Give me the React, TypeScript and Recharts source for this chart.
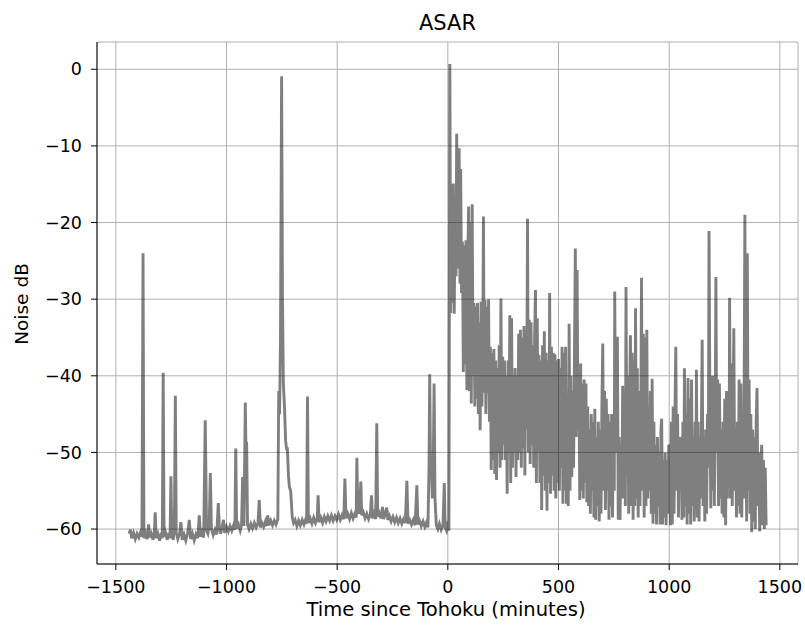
import React from "react";
import { LineChart, Line, XAxis, YAxis, CartesianGrid } from "recharts";

// [minutes since Tohoku, noise dB] before the quake
const preQuake: [number, number][] = [
  [-1440, -60.6], [-1434, -60.1], [-1428, -61.2], [-1420, -60.5], [-1412, -61.3], [-1404, -60.6],
  [-1396, -61.1], [-1388, -60.4], [-1382, -61.0], [-1377, -24.0], [-1373, -61.2], [-1366, -60.5],
  [-1358, -61.3], [-1352, -59.4], [-1347, -61.1], [-1340, -60.6], [-1332, -61.4], [-1326, -60.4],
  [-1322, -57.8], [-1318, -61.2], [-1310, -60.6], [-1302, -61.5], [-1294, -60.5], [-1290, -61.2],
  [-1286, -39.6], [-1282, -61.0], [-1276, -60.4], [-1268, -61.4], [-1260, -60.5], [-1255, -61.2],
  [-1251, -53.1], [-1247, -60.8], [-1240, -61.4], [-1235, -58.0], [-1231, -42.6], [-1227, -60.5],
  [-1220, -61.3], [-1212, -60.6], [-1206, -59.1], [-1200, -61.4], [-1192, -60.7], [-1184, -61.5],
  [-1176, -60.6], [-1168, -58.8], [-1162, -61.3], [-1154, -60.6], [-1146, -61.5], [-1138, -60.7],
  [-1130, -61.2], [-1123, -58.2], [-1117, -61.0], [-1110, -60.4], [-1103, -61.1], [-1096, -45.8],
  [-1090, -60.2], [-1084, -60.6], [-1078, -59.5], [-1073, -52.7], [-1068, -60.0], [-1060, -60.8],
  [-1052, -60.1], [-1044, -60.7], [-1037, -56.6], [-1032, -60.0], [-1026, -60.6], [-1020, -59.8],
  [-1014, -58.8], [-1008, -60.5], [-1000, -59.7], [-992, -60.3], [-984, -59.6], [-976, -60.2],
  [-968, -59.5], [-962, -60.1], [-958, -49.5], [-954, -59.9], [-946, -59.4], [-938, -60.2],
  [-932, -59.5], [-927, -53.2], [-921, -59.6], [-915, -43.5], [-911, -52.0], [-909, -48.6],
  [-905, -59.4], [-898, -60.0], [-890, -59.3], [-882, -59.9], [-874, -59.2], [-866, -59.8],
  [-858, -59.3], [-852, -56.2], [-847, -59.8], [-840, -59.2], [-832, -59.7], [-824, -59.0],
  [-818, -59.6], [-814, -58.2], [-808, -59.5], [-800, -58.9], [-792, -59.5], [-784, -58.9],
  [-776, -59.4], [-768, -58.7], [-764, -42.0], [-760, -45.0], [-756, -35.0], [-751, -0.9],
  [-747, -30.0], [-743, -41.0], [-738, -44.0], [-733, -48.4], [-729, -49.5], [-725, -49.5],
  [-720, -53.0], [-716, -54.5], [-710, -55.0], [-703, -58.4], [-697, -59.2], [-690, -58.8],
  [-682, -59.6], [-674, -58.9], [-666, -59.5], [-658, -58.8], [-650, -59.4], [-642, -58.7],
  [-638, -59.3], [-634, -42.7], [-630, -59.2], [-622, -58.6], [-614, -59.3], [-606, -58.5],
  [-598, -59.2], [-590, -58.6], [-586, -55.6], [-582, -59.1], [-574, -58.5], [-566, -59.2],
  [-558, -58.4], [-550, -59.0], [-542, -58.3], [-534, -58.9], [-526, -58.2], [-518, -58.9],
  [-510, -58.3], [-502, -58.8], [-494, -58.1], [-486, -58.8], [-478, -58.2], [-470, -58.7],
  [-465, -53.4], [-460, -58.6], [-452, -58.0], [-444, -58.7], [-436, -57.9], [-428, -58.6],
  [-420, -58.0], [-414, -58.5], [-411, -50.7], [-407, -57.5], [-400, -58.0], [-393, -53.8],
  [-389, -58.2], [-382, -57.8], [-374, -58.6], [-366, -58.0], [-358, -58.7], [-350, -58.1],
  [-345, -55.6], [-340, -58.6], [-333, -58.0], [-326, -58.7], [-321, -46.2], [-317, -58.4],
  [-310, -57.9], [-302, -58.6], [-295, -57.1], [-290, -58.7], [-283, -58.1], [-276, -57.2],
  [-271, -58.8], [-264, -58.3], [-256, -59.0], [-248, -58.4], [-240, -59.1], [-232, -58.5],
  [-224, -59.2], [-216, -58.6], [-208, -59.3], [-200, -58.7], [-192, -59.2], [-185, -53.7],
  [-180, -59.3], [-172, -58.8], [-164, -59.4], [-156, -58.8], [-148, -59.5], [-140, -54.3],
  [-135, -59.4], [-128, -58.9], [-120, -59.6], [-112, -59.0], [-104, -59.7], [-96, -59.1],
  [-90, -59.8], [-85, -52.0], [-82, -39.8], [-78, -52.5], [-74, -52.0], [-70, -56.0],
  [-66, -52.0], [-62, -41.0], [-58, -56.0], [-52, -59.5], [-45, -60.0], [-38, -59.3],
  [-30, -60.1], [-22, -59.5], [-16, -54.0], [-12, -59.8], [-6, -60.2], [-2, -59.6],
];

// [minutes since Tohoku, noise dB] after the quake
const postQuake: [number, number][] = [
  [5, -60.2], [9, 0.7], [13, -31.8], [17, -15.0], [21, -30.5], [25, -14.9], [29, -31.9],
  [33, -17.0], [37, -27.0], [40, -8.4], [44, -26.0], [47, -12.0], [51, -10.3], [55, -28.0],
  [58, -13.0], [62, -29.2], [66, -22.5], [70, -39.5], [74, -23.0], [78, -38.5], [82, -22.3],
  [86, -41.9], [90, -25.0], [94, -17.9], [98, -42.0], [102, -20.0], [106, -43.6], [110, -17.6],
  [114, -40.0], [118, -30.5], [122, -44.0], [126, -31.0], [130, -43.0], [134, -30.5], [138, -45.0],
  [142, -33.0], [146, -47.1], [150, -30.3], [154, -44.0], [158, -35.0], [161, -19.2], [164, -42.2],
  [168, -30.1], [172, -45.0], [176, -31.0], [180, -42.2], [184, -30.0], [188, -46.0], [192, -36.2],
  [196, -52.3], [200, -37.0], [204, -51.0], [208, -36.5], [212, -52.8], [216, -38.0], [220, -53.6],
  [224, -39.0], [228, -50.0], [232, -36.0], [236, -52.0], [240, -29.9], [244, -51.0], [248, -37.5],
  [252, -49.0], [256, -38.0], [260, -51.0], [264, -40.0], [268, -55.4], [272, -38.0], [276, -50.0],
  [280, -32.1], [284, -54.0], [288, -32.5], [292, -52.0], [296, -40.0], [300, -50.0], [304, -39.0],
  [308, -53.2], [312, -40.0], [316, -51.0], [320, -34.5], [324, -50.0], [328, -34.0], [332, -52.0],
  [336, -35.0], [340, -49.5], [344, -33.5], [348, -53.0], [352, -34.0], [356, -47.0], [360, -19.5],
  [364, -50.0], [368, -32.7], [372, -51.5], [376, -33.0], [380, -49.0], [384, -36.0], [388, -52.0],
  [392, -35.0], [396, -28.8], [400, -54.0], [404, -32.5], [408, -50.0], [412, -37.3], [416, -54.0],
  [420, -38.0], [424, -57.5], [428, -36.0], [432, -53.0], [436, -34.2], [440, -55.0], [444, -37.0],
  [448, -57.6], [452, -38.0], [456, -54.0], [460, -29.2], [464, -55.4], [468, -36.2], [472, -53.0],
  [476, -37.0], [480, -55.0], [484, -37.2], [488, -56.0], [492, -38.0], [496, -54.0], [500, -37.8],
  [504, -55.0], [508, -39.0], [512, -52.0], [516, -36.2], [520, -56.7], [524, -37.0], [528, -55.0],
  [532, -36.2], [536, -56.7], [540, -45.8], [544, -57.0], [548, -33.2], [552, -55.0], [556, -40.0],
  [560, -53.2], [564, -42.0], [568, -52.0], [572, -38.0], [576, -23.4], [580, -48.0], [584, -26.2],
  [588, -47.0], [592, -40.0], [596, -56.2], [600, -38.4], [604, -55.0], [608, -41.0], [612, -56.0],
  [616, -40.5], [620, -54.0], [624, -41.0], [628, -56.5], [632, -44.0], [636, -57.0], [640, -47.0],
  [644, -58.0], [648, -45.0], [652, -55.0], [656, -46.0], [660, -58.5], [664, -44.3], [668, -58.8],
  [672, -48.0], [676, -57.0], [680, -46.0], [684, -59.0], [688, -47.0], [692, -58.0], [696, -44.0],
  [700, -35.8], [704, -55.0], [708, -42.0], [712, -57.5], [716, -43.0], [720, -55.0], [724, -45.0],
  [728, -58.8], [732, -46.0], [736, -57.0], [740, -45.0], [744, -58.5], [748, -47.0], [752, -55.0],
  [754, -29.0], [758, -50.0], [762, -36.0], [766, -34.9], [770, -58.8], [774, -48.0], [778, -58.8],
  [782, -49.0], [786, -56.0], [790, -41.3], [794, -56.0], [798, -44.0], [802, -57.0], [805, -28.4],
  [809, -53.0], [813, -40.0], [817, -58.0], [821, -43.0], [825, -34.7], [829, -57.0], [833, -37.0],
  [837, -58.8], [841, -38.0], [845, -57.0], [848, -31.2], [852, -56.0], [856, -39.0], [860, -58.5],
  [864, -42.0], [868, -57.0], [872, -45.0], [875, -27.2], [879, -55.0], [883, -34.5], [887, -58.5],
  [891, -35.0], [895, -57.0], [899, -34.0], [903, -56.0], [907, -44.0], [911, -55.0], [915, -42.0],
  [919, -58.0], [923, -40.4], [927, -59.3], [931, -46.0], [935, -58.0], [939, -49.0], [943, -59.4],
  [947, -48.0], [951, -57.0], [955, -50.0], [959, -59.4], [963, -47.0], [966, -45.6], [970, -59.4],
  [974, -51.0], [978, -58.5], [982, -50.0], [986, -59.5], [990, -51.0], [994, -58.0], [998, -49.0],
  [1003, -49.5], [1006, -59.5], [1010, -46.0], [1014, -59.4], [1018, -44.0], [1022, -58.0],
  [1026, -45.0], [1030, -36.2], [1034, -55.0], [1038, -45.0], [1042, -58.5], [1046, -48.0],
  [1050, -54.0], [1054, -48.0], [1058, -58.8], [1062, -46.0], [1066, -58.5], [1069, -39.0],
  [1073, -57.0], [1077, -45.0], [1081, -59.4], [1085, -40.3], [1089, -58.0], [1093, -43.0],
  [1097, -59.4], [1101, -40.5], [1105, -57.0], [1109, -48.0], [1113, -59.0], [1117, -46.0],
  [1121, -57.0], [1123, -39.2], [1127, -58.5], [1131, -46.0], [1135, -59.0], [1139, -48.0],
  [1143, -56.0], [1149, -35.3], [1153, -57.0], [1157, -48.0], [1161, -59.0], [1165, -47.0],
  [1169, -58.0], [1173, -45.0], [1177, -52.0], [1180, -21.1], [1184, -44.0], [1188, -57.3],
  [1192, -40.0], [1196, -55.0], [1200, -40.0], [1204, -57.0], [1208, -45.0], [1211, -27.1],
  [1215, -50.0], [1219, -40.5], [1223, -57.0], [1227, -41.0], [1231, -56.0], [1235, -47.0],
  [1239, -58.0], [1243, -46.0], [1247, -58.5], [1251, -43.0], [1255, -59.5], [1259, -42.0],
  [1263, -56.0], [1267, -44.0], [1271, -51.0], [1273, -29.8], [1277, -56.0], [1281, -38.4],
  [1285, -57.0], [1289, -44.0], [1292, -33.8], [1296, -55.0], [1300, -48.0], [1304, -58.5],
  [1308, -46.0], [1312, -57.0], [1316, -40.5], [1320, -58.0], [1324, -41.0], [1328, -58.5],
  [1332, -45.0], [1336, -56.0], [1339, -40.0], [1342, -19.0], [1346, -45.0], [1350, -59.0],
  [1353, -24.0], [1357, -55.0], [1361, -40.5], [1365, -58.0], [1369, -45.0], [1373, -60.4],
  [1377, -47.0], [1381, -59.0], [1385, -48.0], [1389, -60.0], [1393, -46.0], [1397, -41.6],
  [1401, -57.0], [1405, -50.0], [1409, -60.3], [1413, -52.0], [1418, -49.0], [1422, -59.5],
  [1426, -51.0], [1430, -60.0], [1434, -52.0], [1438, -59.5],
];

const xTicks = [-1500, -1000, -500, 0, 500, 1000, 1500];
const yTicks = [-60, -50, -40, -30, -20, -10, 0];

const chartTitle = "ASAR";
const xLabel = "Time since Tohoku (minutes)";
const yLabel = "Noise dB";

const data = [...preQuake, ...postQuake].map(([t, v]) => ({ t, v }));

const FONT = "'DejaVu Sans', sans-serif";
const fmt = (v: number) => (v < 0 ? "\u2212" + Math.abs(v) : String(v));

const W = 805;
const H = 625;

export default function App() {
  const tickStyle = { fontSize: 17.5, fill: "#000", fontFamily: FONT };
  return (
    <div style={{ position: "absolute", left: 0, top: 0, width: W, height: H, background: "#fff" }}>
      <LineChart
        width={W}
        height={H}
        data={data}
        margin={{ top: 42, right: 7, bottom: 31, left: 37 }}
      >
        <CartesianGrid stroke="#b0b0b0" strokeWidth={1} />
        <XAxis
          dataKey="t"
          type="number"
          domain={[-1585, 1582]}
          ticks={xTicks}
          tickFormatter={fmt}
          allowDataOverflow
          height={30}
          tick={tickStyle}
          tickSize={6}
          tickMargin={11}
          stroke="#000"
          axisLine={{ stroke: "#000" }}
          tickLine={{ stroke: "#000" }}
        />
        <XAxis
          xAxisId="top"
          orientation="top"
          dataKey="t"
          type="number"
          domain={[-1585, 1582]}
          height={0}
          tick={false}
          tickLine={false}
          axisLine={{ stroke: "#000" }}
        />
        <YAxis
          type="number"
          domain={[-64.56, 3.56]}
          ticks={yTicks}
          tickFormatter={fmt}
          allowDataOverflow
          width={60}
          tick={tickStyle}
          tickSize={6}
          tickMargin={9}
          axisLine={{ stroke: "#000" }}
          tickLine={{ stroke: "#000" }}
        />
        <YAxis
          yAxisId="right"
          orientation="right"
          type="number"
          domain={[-64.56, 3.56]}
          width={0}
          tick={false}
          tickLine={false}
          axisLine={{ stroke: "#000" }}
        />
        <Line
          dataKey="v"
          type="linear"
          stroke="#000"
          strokeOpacity={0.5}
          strokeWidth={2.9}
          strokeLinejoin="miter"
          dot={false}
          activeDot={false}
          isAnimationActive={false}
        />
      </LineChart>
      <svg
        width={W}
        height={H}
        style={{ position: "absolute", left: 0, top: 0, pointerEvents: "none" }}
      >
        <text x={447.5} y={30} textAnchor="middle" fontSize={21} fontFamily={FONT} fill="#000">
          {chartTitle}
        </text>
        <text x={446} y={616} textAnchor="middle" fontSize={19.5} fontFamily={FONT} fill="#000">
          {xLabel}
        </text>
        <text
          x={28}
          y={304}
          textAnchor="middle"
          fontSize={18.5}
          fontFamily={FONT}
          fill="#000"
          transform="rotate(-90 28 304)"
        >
          {yLabel}
        </text>
      </svg>
    </div>
  );
}
